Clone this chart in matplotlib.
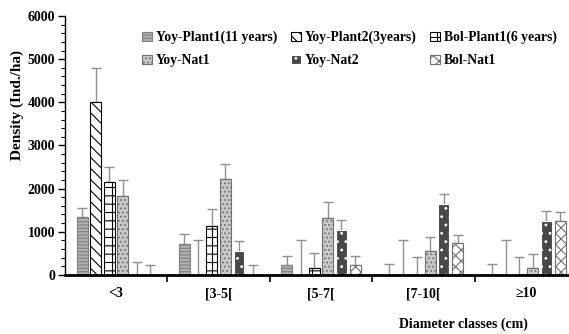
import numpy as np
import matplotlib
matplotlib.use("Agg")
import matplotlib.pyplot as plt
from matplotlib.ticker import MultipleLocator

plt.rcParams['font.family'] = ['Liberation Serif', 'DejaVu Serif']
plt.rcParams['font.weight'] = 'bold'
plt.rcParams['hatch.linewidth'] = 0.8

classes = ["<3", "[3-5[", "[5-7[", "[7-10[", "≥10"]
series = ["Yoy-Plant1(11 years)", "Yoy-Plant2(3years)", "Bol-Plant1(6 years)",
          "Yoy-Nat1", "Yoy-Nat2", "Bol-Nat1"]

# mean density per diameter class
plant1_yoy = [1340, 720, 230, 0, 0]
plant2_yoy = [4000, 0, 0, 0, 0]
plant1_bol = [2150, 1140, 150, 0, 0]
nat1_yoy = [1830, 2230, 1320, 550, 150]
nat2_yoy = [0, 550, 1040, 1640, 1250]
nat1_bol = [0, 0, 230, 740, 1250]

# upper error (top of error bar)
plant1_yoy_top = [1560, 950, 440, 250, 250]
plant2_yoy_top = [4800, 800, 800, 800, 800]
plant1_bol_top = [2500, 1530, 510, 420, 420]
nat1_yoy_top = [2200, 2580, 1700, 880, 490]
nat2_yoy_top = [300, 790, 1280, 1880, 1490]
nat1_bol_top = [230, 230, 440, 930, 1460]

values = [plant1_yoy, plant2_yoy, plant1_bol, nat1_yoy, nat2_yoy, nat1_bol]
tops = [plant1_yoy_top, plant2_yoy_top, plant1_bol_top, nat1_yoy_top, nat2_yoy_top, nat1_bol_top]

styles = [
    dict(facecolor="#b0b0b0", hatch="-----", edgecolor="#808080"),
    dict(facecolor="white", hatch="\\\\\\", edgecolor="black"),
    dict(facecolor="white", hatch="++", edgecolor="black"),
    dict(facecolor="#c8c8c8", hatch="....", edgecolor="#707070"),
    dict(facecolor="#484848", hatch="..", edgecolor="white"),
    dict(facecolor="white", hatch="xxx", edgecolor="#707070"),
]

fig = plt.figure(figsize=(5.69, 3.34), dpi=100)
ax = fig.add_axes([0.114, 0.177, 0.886, 0.775])

centers = np.arange(len(classes)) + 0.5
step = 0.133
width = 0.107

handles = []
for i, (name, vals, top, st) in enumerate(zip(series, values, tops, styles)):
    x = centers + (i - 2.5) * step
    vals = np.array(vals)
    err = np.array(top) - vals
    b = ax.bar(x, vals, width, label=name, linewidth=0.8, zorder=2, **st)
    ax.errorbar(x, vals, yerr=[np.zeros_like(err), err], fmt="none",
                ecolor="#909090", elinewidth=1, capsize=3.5, capthick=1, zorder=1)
    handles.append(b)

ax.set_ylim(0, 6000)
ax.set_xlim(0, 4.92)
ax.yaxis.set_major_locator(MultipleLocator(1000))
ax.yaxis.set_minor_locator(MultipleLocator(200))
ax.tick_params(axis="y", which="major", length=5, width=1, labelsize=10, pad=2)
ax.tick_params(axis="y", which="minor", length=3, width=0.8)

ax.set_xticks([1, 2, 3, 4])
ax.set_xticklabels([])
ax.set_xticks(centers, minor=True)
ax.set_xticklabels(classes, minor=True, fontsize=10)
ax.tick_params(axis="x", which="major", length=5, width=1.2)
ax.tick_params(axis="x", which="minor", length=0, pad=9)

ax.spines["top"].set_visible(False)
ax.spines["right"].set_visible(False)
ax.spines["bottom"].set_linewidth(2)
ax.spines["left"].set_linewidth(1)

ax.set_ylabel("Density (Ind./ha)", fontsize=11, fontweight="bold")
ax.yaxis.set_label_coords(-0.082, 0.655)
ax.set_xlabel("Diameter classes (cm)", fontsize=10, fontweight="bold")
ax.xaxis.set_label_coords(0.79, -0.165)

order = [0, 3, 1, 4, 2, 5]
ax.legend([handles[k] for k in order], [series[k] for k in order], ncol=3,
          loc="upper left", bbox_to_anchor=(0.135, 0.98), frameon=False,
          fontsize=9.8, handlelength=0.7, handleheight=0.7, handletextpad=0.3,
          columnspacing=1.0, labelspacing=0.75, borderpad=0.2)

fig.savefig("out.png", dpi=100)
